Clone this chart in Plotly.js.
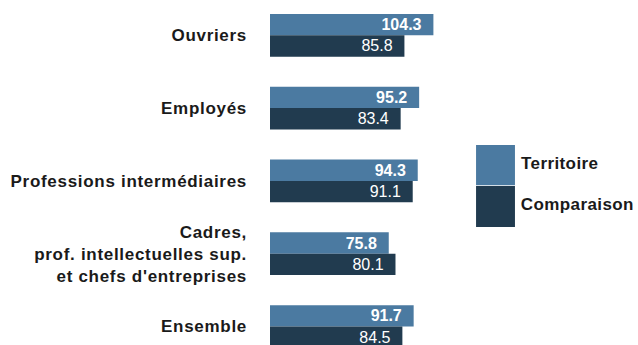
<!DOCTYPE html>
<html>
<head>
<meta charset="utf-8">
<script src="https://cdn.plot.ly/plotly-3.0.1.min.js"></script>
<style>
html,body{margin:0;padding:0;background:#fff;}
#chart{width:638px;height:345px;}
#chart .ytick text{letter-spacing:0.7px;}
#chart .annotation-text{letter-spacing:0.4px;}
</style>
</head>
<body>
<div id="chart"></div>
<script>
const categories = ["Ouvriers", "Employés", "Professions intermédiaires", "Cadres,<br>prof. intellectuelles sup.<br>et chefs d'entreprises", "Ensemble"];
const territoire = [104.3, 95.2, 94.3, 75.8, 91.7];
const comparaison = [85.8, 83.4, 91.1, 80.1, 84.5];
const seriesNames = ["Territoire", "Comparaison"];
const colors = ["#4b7aa1", "#213b4f"];

const NB = "\u00a0\u00a0";
const traces = [
  {
    type: "bar", orientation: "h", name: seriesNames[0],
    y: categories, x: territoire,
    marker: {color: colors[0]},
    texttemplate: "<b>%{x:.1f}</b>" + NB,
    textposition: "inside", insidetextanchor: "end", constraintext: "none",
    textfont: {family: "Liberation Sans, Arial, sans-serif", size: 16, color: "#ffffff"},
    hoverinfo: "skip"
  },
  {
    type: "bar", orientation: "h", name: seriesNames[1],
    y: categories, x: comparaison,
    marker: {color: colors[1]},
    texttemplate: "%{x:.1f}" + NB,
    textposition: "inside", insidetextanchor: "end", constraintext: "none",
    textfont: {family: "Liberation Sans, Arial, sans-serif", size: 16, color: "#ffffff"},
    hoverinfo: "skip"
  }
];

const legendShapes = [], legendAnn = [];
const lx0 = 1.096, lx1 = 1.303;
const ly = [[0.580, 0.463], [0.461, 0.342]];
seriesNames.forEach((n, i) => {
  legendShapes.push({type: "rect", xref: "paper", yref: "paper", x0: lx0, x1: lx1, y0: ly[i][1], y1: ly[i][0],
    fillcolor: colors[i], line: {width: 0}});
  legendAnn.push({xref: "paper", yref: "paper", x: 1.335, y: (ly[i][0] + ly[i][1]) / 2 + 0.005,
    xanchor: "left", yanchor: "middle", showarrow: false, text: "<b>" + n + "</b>",
    font: {family: "Liberation Sans, Arial, sans-serif", size: 17, color: "#1a1a1a"}});
});

const layout = {
  width: 638, height: 345,
  margin: {l: 270, r: 180, t: 0, b: 0},
  paper_bgcolor: "#ffffff", plot_bgcolor: "#ffffff",
  barmode: "group", bargap: 0.413, bargroupgap: 0,
  showlegend: false,
  font: {family: "Liberation Sans, Arial, sans-serif", color: "#1a1a1a"},
  xaxis: {range: [0, 120], visible: false, fixedrange: true},
  yaxis: {
    type: "category", range: [4.254, -0.485],
    showgrid: false, zeroline: false, showline: false, ticks: "",
    ticklabelstandoff: 22,
    tickfont: {family: "Liberation Sans, Arial, sans-serif", size: 17, color: "#1a1a1a", weight: "bold"},
    fixedrange: true
  },
  shapes: legendShapes,
  annotations: legendAnn
};

Plotly.newPlot("chart", traces, layout, {displayModeBar: false, staticPlot: true});
</script>
</body>
</html>
